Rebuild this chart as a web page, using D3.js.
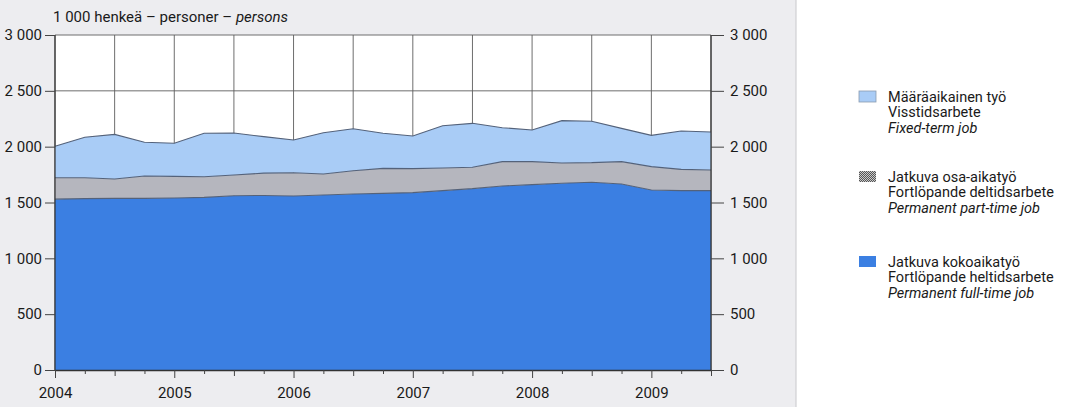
<!DOCTYPE html>
<html>
<head>
<meta charset="utf-8">
<script src="https://cdn.jsdelivr.net/npm/d3@7"></script>
<style>
  html, body { margin: 0; padding: 0; background: #ffffff; }
  svg { display: block; }
  text { font-family: "Roboto", "Liberation Sans", sans-serif; fill: #1a1a1a; }
</style>
</head>
<body>
<svg id="chart" width="1075" height="407"></svg>
<script>
// ---- Data (1 000 persons), quarterly 2004Q1 .. 2009Q3 ----
const quarters = ["2004Q1","2004Q2","2004Q3","2004Q4","2005Q1","2005Q2","2005Q3","2005Q4",
                  "2006Q1","2006Q2","2006Q3","2006Q4","2007Q1","2007Q2","2007Q3","2007Q4",
                  "2008Q1","2008Q2","2008Q3","2008Q4","2009Q1","2009Q2","2009Q3"];
const fullTime  = [1530,1535,1537,1537,1540,1546,1561,1563,1558,1567,1576,1582,1588,1606,1624,1648,1660,1672,1681,1666,1612,1606,1606];
const partTime  = [192,187,173,200,194,185,185,200,209,188,209,224,215,203,191,218,206,182,176,200,209,191,185];
const fixedTerm = [281,362,400,302,296,389,376,327,293,370,376,314,292,379,394,304,283,379,370,298,280,343,340];
const yTicks = [0,500,1000,1500,2000,2500,3000];
const yearLabels = ["2004","2005","2006","2007","2008","2009"];
const seriesKeys = ["fullTime","partTime","fixedTerm"];
const legendLines = {
  fixedTerm: ["Määräaikainen työ","Visstidsarbete","Fixed-term job"],
  partTime:  ["Jatkuva osa-aikatyö","Fortlöpande deltidsarbete","Permanent part-time job"],
  fullTime:  ["Jatkuva kokoaikatyö","Fortlöpande heltidsarbete","Permanent full-time job"]
};
const titleParts = ["1 000 henkeä – personer – ", "persons"];

// ---- Layout ----
const svg = d3.select("#chart");
const W = 1075, H = 407;
const m = {left: 55, right: 711, top: 35, bottom: 370};
const colors = { fullTime: "#3b7fe2", partTime: "#b5b6be", fixedTerm: "#a9ccf6" };

// page background panel
svg.append("rect").attr("x",0).attr("y",0).attr("width",796).attr("height",H).attr("fill","#ededf0");
svg.append("line").attr("x1",796).attr("x2",796).attr("y1",0).attr("y2",H).attr("stroke","#c8c8cc").attr("stroke-width",1);

const table = quarters.map((q,i)=>({i, fullTime: fullTime[i], partTime: partTime[i], fixedTerm: fixedTerm[i]}));
const x = d3.scaleLinear().domain([0, quarters.length-1]).range([m.left, m.right]);
const y = d3.scaleLinear().domain([0, 3000]).range([m.bottom, m.top]);

// plot bg
svg.append("rect").attr("x",m.left).attr("y",m.top).attr("width",m.right-m.left).attr("height",m.bottom-m.top).attr("fill","#ffffff");

// gridlines: horizontal
svg.append("g").selectAll("line").data(yTicks).join("line")
  .attr("x1",m.left).attr("x2",m.right).attr("y1",d=>y(d)).attr("y2",d=>y(d))
  .attr("stroke","#5e5e5e").attr("stroke-width",0.9);
// vertical gridlines every half-year
const halfYears = d3.range(0, quarters.length, 2);
svg.append("g").selectAll("line").data(halfYears).join("line")
  .attr("x1",d=>x(d)).attr("x2",d=>x(d)).attr("y1",m.top).attr("y2",m.bottom)
  .attr("stroke","#5e5e5e").attr("stroke-width",0.9);

// stacked areas
const stack = d3.stack().keys(seriesKeys);
const layers = stack(table);
const area = d3.area().x(d=>x(d.data.i)).y0(d=>y(d[0])).y1(d=>y(d[1]));
const line = d3.line().x(d=>x(d.data.i)).y(d=>y(d[1]));
svg.append("g").selectAll("path").data(layers).join("path")
  .attr("d", area).attr("fill", d=>colors[d.key]);
svg.append("g").selectAll("path").data(layers).join("path")
  .attr("d", line).attr("fill","none").attr("stroke","#54627a").attr("stroke-width",1.1);

// y axes
const fmt = d=>d3.format(",")(d).replace(/,/g," ");
const axL = d3.axisLeft(y).tickValues(yTicks).tickSize(10).tickPadding(3).tickFormat(fmt);
const axR = d3.axisRight(y).tickValues(yTicks).tickSize(13).tickPadding(6).tickFormat(fmt);
const gL = svg.append("g").attr("transform",`translate(${m.left},0)`).call(axL);
const gR = svg.append("g").attr("transform",`translate(${m.right},0)`).call(axR);
[gL,gR].forEach(g=>{
  g.select(".domain").attr("stroke","#333").attr("stroke-width",1.2).attr("d", `M0,${m.top}V${m.bottom}`);
  g.selectAll(".tick line").attr("stroke","#444");
  g.selectAll("text").style("font-size","15px").attr("fill","#1a1a1a");
});

// x axis
const axX = d3.axisBottom(x).tickValues(d3.range(0,quarters.length)).tickSize(0).tickFormat("");
const gX = svg.append("g").attr("transform",`translate(0,${m.bottom})`).call(axX);
gX.select(".domain").attr("stroke","#333").attr("stroke-width",1.4);
gX.selectAll(".tick").append("line")
  .attr("stroke","#444").attr("y1",0)
  .attr("y2",d=> d%4===0 ? 8 : (d%2===0 ? 6 : 4));
gX.selectAll(".tick").filter(d=>d%4===0).append("text")
  .attr("y",28).attr("text-anchor","middle").style("font-size","15px").attr("fill","#1a1a1a")
  .text(d=>yearLabels[d/4]);

// title
const t = svg.append("text").attr("x",53).attr("y",22).style("font-size","15px");
t.append("tspan").text(titleParts[0]);
t.append("tspan").style("font-style","italic").text(titleParts[1]);

// legend
const defs = svg.append("defs");
const pat = defs.append("pattern").attr("id","dots").attr("width",2).attr("height",2).attr("patternUnits","userSpaceOnUse");
pat.append("rect").attr("width",2).attr("height",2).attr("fill","#c9c9c9");
pat.append("rect").attr("width",1).attr("height",1).attr("fill","#555");
pat.append("rect").attr("x",1).attr("y",1).attr("width",1).attr("height",1).attr("fill","#555");

const legendOrder = ["fixedTerm","partTime","fullTime"];
const legendY = [97, 177, 262];
const lg = svg.append("g");
legendOrder.forEach((k,j)=>{
  const g = lg.append("g").attr("transform",`translate(0,${legendY[j]})`);
  g.append("rect").attr("x",859).attr("y",-6).attr("width",17).attr("height",11)
    .attr("fill", k==="partTime" ? "url(#dots)" : colors[k])
    .attr("stroke", k==="fixedTerm" ? "#8a9bb0" : "none").attr("stroke-width",0.8);
  legendLines[k].forEach((s,li)=>{
    g.append("text").attr("x",888).attr("y",li*15.3+5).style("font-size","14.5px")
      .style("font-style", li===2 ? "italic" : "normal").text(s);
  });
});
</script>
</body>
</html>
